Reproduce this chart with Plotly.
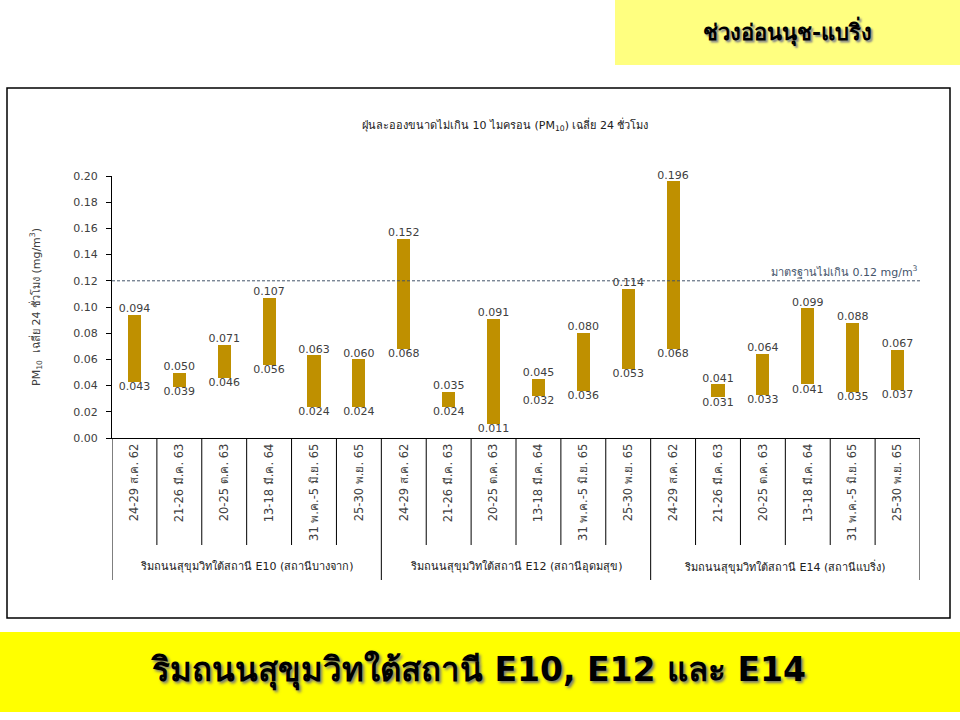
import plotly.graph_objects as go

# ---- data ----
dates = ["24-29 ส.ค. 62", "21-26 มี.ค. 63", "20-25 ต.ค. 63",
         "13-18 มี.ค. 64", "31 พ.ค.-5 มิ.ย. 65", "25-30 พ.ย. 65"]
groups = ["ริมถนนสุขุมวิทใต้สถานี E10 (สถานีบางจาก)",
          "ริมถนนสุขุมวิทใต้สถานี E12 (สถานีอุดมสุข)",
          "ริมถนนสุขุมวิทใต้สถานี E14 (สถานีแบริ่ง)"]
max_e10 = [0.094, 0.050, 0.071, 0.107, 0.063, 0.060]
min_e10 = [0.043, 0.039, 0.046, 0.056, 0.024, 0.024]
max_e12 = [0.152, 0.035, 0.091, 0.045, 0.080, 0.114]
min_e12 = [0.068, 0.024, 0.011, 0.032, 0.036, 0.053]
max_e14 = [0.196, 0.041, 0.064, 0.099, 0.088, 0.067]
min_e14 = [0.068, 0.031, 0.033, 0.041, 0.035, 0.037]
standard = 0.12
y_ticks = [0.00, 0.02, 0.04, 0.06, 0.08, 0.10, 0.12, 0.14, 0.16, 0.18, 0.20]

maxs = max_e10 + max_e12 + max_e14
mins = min_e10 + min_e12 + min_e14
labels = dates * len(groups)
x = list(range(len(labels)))
n_per = len(dates)

# ---- layout geometry (pixels) ----
W, H = 960, 720
L, R, T, B = 112, 40, 176, 282
PW, PH = W - L - R, H - T - B


def px(xp):
    return (xp - L) / PW


def py(yp):
    return (H - B - yp) / PH


FONT = "Tahoma, 'DejaVu Sans', 'Noto Sans', sans-serif"
TXT = "#404040"
BAR = "#BF9000"

fig = go.Figure()
fig.add_trace(go.Bar(
    x=x, y=[a - b for a, b in zip(maxs, mins)], base=mins,
    marker=dict(color=BAR, line=dict(width=0)), width=0.29,
    hoverinfo="skip", showlegend=False))
fig.add_trace(go.Scatter(
    x=x, y=maxs, mode="text", text=[f"{v:.3f}" for v in maxs],
    textposition="top center", textfont=dict(size=11, color=TXT, family=FONT),
    showlegend=False, hoverinfo="skip", cliponaxis=False))
fig.add_trace(go.Scatter(
    x=x, y=mins, mode="text", text=[f"{v:.3f}" for v in mins],
    textposition="bottom center", textfont=dict(size=11, color=TXT, family=FONT),
    showlegend=False, hoverinfo="skip", cliponaxis=False))

shapes = []
# outer chart frame
shapes.append(dict(type="rect", xref="paper", yref="paper",
                   x0=px(7), x1=px(950), y0=py(618), y1=py(88),
                   line=dict(color="black", width=1.5), layer="below"))
# top-right yellow box
shapes.append(dict(type="rect", xref="paper", yref="paper",
                   x0=px(615), x1=px(960), y0=py(65), y1=py(0),
                   fillcolor="#FFFF80", line=dict(width=0), layer="below"))
# bottom banner
shapes.append(dict(type="rect", xref="paper", yref="paper",
                   x0=px(0), x1=px(960), y0=py(712), y1=py(632),
                   fillcolor="#FFFF00", line=dict(width=0), layer="below"))
# standard line
shapes.append(dict(type="line", xref="paper", yref="y",
                   x0=0, x1=1, y0=standard, y1=standard,
                   line=dict(color="#44546A", width=1, dash="3px,2px")))
# category dividers
for i in range(len(labels) + 1):
    bx = i - 0.5
    is_group = (i % n_per == 0)
    shapes.append(dict(type="line", xref="x", yref="paper",
                       x0=bx, x1=bx, y0=0, y1=py(580 if is_group else 545),
                       line=dict(color="black", width=1)))

annotations = []
for g, name in enumerate(groups):
    annotations.append(dict(
        x=g * n_per + (n_per - 1) / 2, y=py(566), xref="x", yref="paper",
        text=name, showarrow=False, xanchor="center", yanchor="middle",
        font=dict(size=11, color="#202020", family=FONT)))
annotations.append(dict(
    x=px(505), y=py(125), xref="paper", yref="paper",
    text="ฝุ่นละอองขนาดไม่เกิน 10 ไมครอน (PM<sub>10</sub>) เฉลี่ย 24 ชั่วโมง",
    showarrow=False, xanchor="center", yanchor="middle",
    font=dict(size=11, color="#202020", family=FONT)))
annotations.append(dict(
    x=1, y=standard, xref="paper", yref="y", xanchor="right", yanchor="bottom",
    text="มาตรฐานไม่เกิน 0.12 mg/m<sup>3</sup>", showarrow=False,
    font=dict(size=11, color="#44546A", family=FONT)))
annotations.append(dict(
    x=px(787), y=py(31), xref="paper", yref="paper",
    text="<b>ช่วงอ่อนนุช-แบริ่ง</b>", showarrow=False,
    xanchor="center", yanchor="middle",
    font=dict(size=22, color="black", family=FONT, shadow="2px 2px 2px #888")))
annotations.append(dict(
    x=px(478), y=py(670), xref="paper", yref="paper",
    text="<b>ริมถนนสุขุมวิทใต้สถานี E10, E12 และ E14</b>", showarrow=False,
    xanchor="center", yanchor="middle",
    font=dict(size=33, color="black", family=FONT, shadow="2px 2px 3px #777")))

fig.update_layout(
    width=W, height=H, margin=dict(l=L, r=R, t=T, b=B),
    paper_bgcolor="white", plot_bgcolor="white",
    font=dict(family=FONT, color=TXT, size=11),
    shapes=shapes, annotations=annotations, bargap=0,
    xaxis=dict(range=[-0.5, len(labels) - 0.5], tickmode="array",
               tickvals=x, ticktext=labels, tickangle=-90,
               showline=True, linecolor="black", linewidth=1,
               showgrid=False, zeroline=False, ticks="",
               tickfont=dict(size=11.5, color=TXT, family=FONT)),
    yaxis=dict(range=[0, 0.2], tickmode="array", tickvals=y_ticks,
               ticktext=[f"{v:.2f}" for v in y_ticks],
               showline=True, linecolor="black", linewidth=1,
               ticks="outside", ticklen=5, tickcolor="black",
               ticklabelstandoff=6,
               showgrid=False, zeroline=False,
               tickfont=dict(size=11, color=TXT, family=FONT),
               title=dict(text="PM<sub>10</sub>  เฉลี่ย 24 ชั่วโมง (mg/m<sup>3</sup>)",
                          font=dict(size=11, color=TXT, family=FONT),
                          standoff=30)),
)

fig.write_html("out.html",
               config={"displayModeBar": False},
               post_script="document.body.style.margin='0';"
                           "document.body.style.overflow='hidden';")
